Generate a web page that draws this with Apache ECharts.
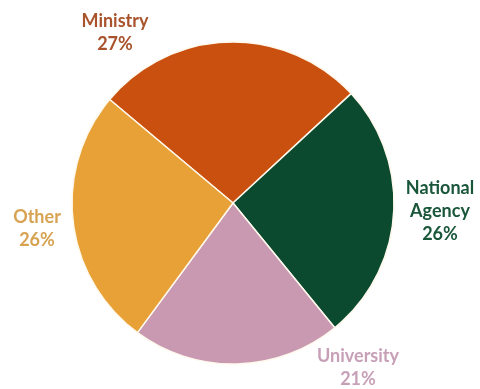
<!DOCTYPE html>
<html>
<head>
<meta charset="utf-8">
<script src="https://cdn.jsdelivr.net/npm/echarts@6/dist/echarts.min.js"></script>
<style>html,body{margin:0;padding:0;background:#fff;}#c{width:480px;height:389px;}</style>
</head>
<body>
<div id="c"></div>
<script>
const categories = ['Ministry', 'National\nAgency', 'University', 'Other'];
const values = [27, 26, 21, 26];
const sliceColors = ['#C9500F', '#0C4A30', '#C899B1', '#E8A137'];
const labelColors = ['#A8532C', '#1A563A', '#C7A0B8', '#D7A352'];
const labelPos = [[115, 33], [440, 211], [358, 368], [37, 229]];

const chart = echarts.init(document.getElementById('c'));
chart.setOption({
  animation: false,
  series: [{
    type: 'pie',
    center: [233, 203],
    radius: ['0%', 161],
    startAngle: 140,
    clockwise: true,
    avoidLabelOverlap: false,
    data: categories.map((n, i) => ({
      name: n, value: values[i],
      itemStyle: { color: sliceColors[i] },
      label: { color: labelColors[i] }
    })),
    itemStyle: { borderColor: '#FFF8EC', borderWidth: 1.5 },
    label: {
      show: true,
      position: 'outside',
      formatter: '{b}\n{d}%',
      fontFamily: 'Lato',
      fontWeight: 'bold',
      fontSize: 18,
      lineHeight: 23,
      align: 'center',
      overflow: 'none',
      width: 140
    },
    labelLine: { show: false },
    labelLayout: function (p) {
      const pos = labelPos[p.dataIndex];
      return { x: pos[0], y: pos[1], align: 'center', verticalAlign: 'middle' };
    }
  }]
});
</script>
</body>
</html>
